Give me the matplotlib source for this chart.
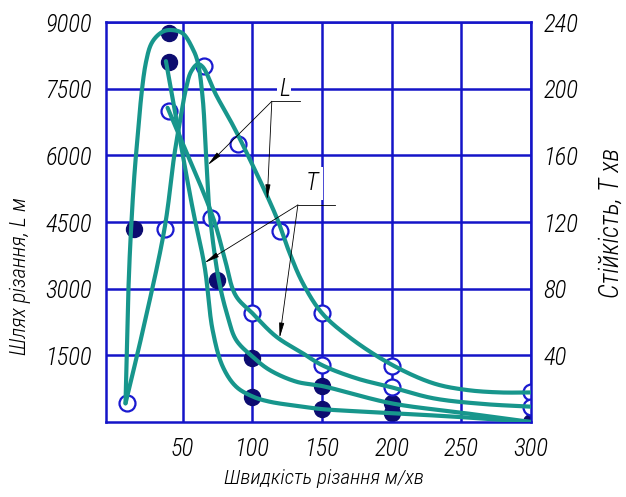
import numpy as np
import matplotlib
matplotlib.use("Agg")
import matplotlib.pyplot as plt
from matplotlib import font_manager

# prefer a narrow face (drawing-style lettering), fall back gracefully
_wanted = ["Liberation Sans Narrow", "DejaVu Sans Condensed", "Roboto Condensed", "Roboto", "DejaVu Sans"]
_have = {f.name for f in font_manager.fontManager.ttflist}
plt.rcParams["font.family"] = [f for f in _wanted if f in _have] or ["DejaVu Sans"]
plt.rcParams["font.style"] = "italic"
plt.rcParams["font.weight"] = "light"

GRID = "#1414c8"
TEAL = "#17968c"
NAVY = "#0c0c70"
OPEN_EDGE = "#1a1ad0"

# ---- traced curves (speed m/min, value on the L-scale 0..9000) ----
# L, filled series
l_fill_x = [9, 11, 13, 16.5, 23.7, 28.4, 35.6, 41.7, 50, 57.2, 60.8, 64.4, 66.8, 69.2,
            75.9, 82.4, 88.4, 100.9, 112.4, 131.6, 150, 200, 250, 300]
l_fill_y = [420, 2900, 4350, 6000, 8100, 8560, 8780, 8820, 8745, 8400, 8100, 7280, 6000, 4770,
            3200, 2370, 1845, 1450, 1170, 907, 810, 420, 210, 0]
# L, open series
l_open_x = [9, 21, 37, 44, 47.6, 52.4, 56, 60.8, 64.4, 74, 86, 95.6, 117.2, 126.8, 136.3,
            150, 170, 200, 230, 254, 278, 300]
l_open_y = [420, 2000, 4350, 6000, 6680, 7500, 7880, 8050, 7990, 7360, 6680, 6080, 4620, 3800, 3120,
            2450, 1900, 1290, 870, 720, 665, 665]
# T, filled series
t_fill_x = [38, 57.2, 65.8, 71.5, 78.8, 88.4, 100.5, 112.4, 136.3, 150, 200, 250, 300]
t_fill_y = [8120, 4800, 3490, 2070, 1245, 795, 570, 457, 345, 290, 200, 110, 0]
# T, open series
t_open_x = [39.2, 71.6, 80, 88, 100, 117.2, 136.3, 150, 174.7, 200, 230, 266, 300]
t_open_y = [7070, 4620, 3700, 2850, 2450, 1920, 1545, 1280, 983, 780, 533, 405, 345]

# ---- measured points ----
filled_x = [40, 40, 15, 75, 100, 100, 150, 150, 200, 200, 300]
filled_y = [8750, 8100, 4350, 3200, 1450, 570, 810, 290, 420, 200, 0]
open_x = [10, 37, 40, 65, 90, 70, 120, 100, 150, 150, 200, 200, 300, 300]
open_y = [420, 4350, 7000, 8000, 6250, 4600, 4300, 2450, 2450, 1280, 1260, 780, 680, 345]

x_ticks = [50, 100, 150, 200, 250, 300]
l_ticks = [1500, 3000, 4500, 6000, 7500, 9000]
t_ticks = [40, 80, 120, 160, 200, 240]


def smooth(xs, ys, n=30):
    """Centripetal Catmull-Rom through the traced points (in pixel-like space)."""
    sx, sy = 425 / 305, 400 / 9000
    p = np.column_stack([np.asarray(xs, float) * sx, np.asarray(ys, float) * sy])
    p = np.vstack([2 * p[0] - p[1], p, 2 * p[-1] - p[-2]])
    out = [p[1]]
    for i in range(1, len(p) - 2):
        p0, p1, p2, p3 = p[i - 1], p[i], p[i + 1], p[i + 2]
        t0 = 0.0
        t1 = t0 + max(np.linalg.norm(p1 - p0), 1e-6) ** 0.5
        t2 = t1 + max(np.linalg.norm(p2 - p1), 1e-6) ** 0.5
        t3 = t2 + max(np.linalg.norm(p3 - p2), 1e-6) ** 0.5
        t = np.linspace(t1, t2, n)[1:, None]
        a1 = (t1 - t) / (t1 - t0) * p0 + (t - t0) / (t1 - t0) * p1
        a2 = (t2 - t) / (t2 - t1) * p1 + (t - t1) / (t2 - t1) * p2
        a3 = (t3 - t) / (t3 - t2) * p2 + (t - t2) / (t3 - t2) * p3
        b1 = (t2 - t) / (t2 - t0) * a1 + (t - t0) / (t2 - t0) * a2
        b2 = (t3 - t) / (t3 - t1) * a2 + (t - t1) / (t3 - t1) * a3
        c = (t2 - t) / (t2 - t1) * b1 + (t - t1) / (t2 - t1) * b2
        out.extend(c)
    out = np.array(out)
    return out[:, 0] / sx, out[:, 1] / sy


fig = plt.figure(figsize=(6.26, 4.97), dpi=100)
renderer = fig.canvas.get_renderer()


def fit(txt, length_px, vertical=False):
    """Scale a text so its long side matches the length measured on the reference."""
    bb = txt.get_window_extent(renderer)
    cur = bb.height if vertical else bb.width
    txt.set_fontsize(txt.get_fontsize() * length_px / cur)


# font size for tick labels: "9000" is ~48 px wide in the reference
probe = fig.text(0, 0, "9000", fontsize=15)
fit(probe, 47)
tick_fs = probe.get_fontsize()
probe.remove()

ax = fig.add_axes([106 / 626, 75 / 497, (531 - 106) / 626, (422 - 22) / 497])
ax.set_xlim(-5, 300)
ax.set_ylim(0, 9000)

for v in x_ticks:
    ax.axvline(v, color=GRID, lw=1.8, zorder=1)
for v in l_ticks:
    ax.axhline(v, color=GRID, lw=1.8, zorder=1)
for s in ax.spines.values():
    s.set_color(GRID)
    s.set_linewidth(1.8)

ax.plot(filled_x, filled_y, "o", ms=11.5, color=NAVY, mec=NAVY, zorder=2)
ax.plot(open_x, open_y, "o", ms=11.5, mfc="white", mec=OPEN_EDGE, mew=1.6, zorder=2)

for cx, cy in [(l_fill_x, l_fill_y), (l_open_x, l_open_y),
               (t_fill_x, t_fill_y), (t_open_x, t_open_y)]:
    xs, ys = smooth(cx, cy)
    ax.plot(xs, ys, color=TEAL, lw=3, solid_capstyle="round", zorder=3)

ax.set_xticks(x_ticks)
ax.set_yticks(l_ticks)
ax.tick_params(length=0, labelsize=tick_fs, pad=11)
ax.tick_params(axis="y", pad=10)

ax2 = ax.twinx()
ax2.set_ylim(0, 240)
ax2.set_yticks(t_ticks)
ax2.tick_params(length=0, labelsize=tick_fs, pad=9)
for s in ax2.spines.values():
    s.set_visible(False)

# leaders for L and T
arrow = dict(arrowstyle="-|>,head_length=0.9,head_width=0.15", color="black",
             lw=0.6, shrinkA=0, shrinkB=0)
ax.text(123, 7500, "L", fontsize=tick_fs, ha="center", va="center", zorder=5,
        bbox=dict(facecolor="white", edgecolor="none", pad=1))
ax.plot([114, 134], [7216, 7216], color="black", lw=0.6, zorder=5)
ax.annotate("", xy=(68, 5780), xytext=(114, 7216), arrowprops=arrow, zorder=5)
ax.annotate("", xy=(110.7, 5000), xytext=(114, 7216), arrowprops=arrow, zorder=5)

ax.text(143, 5370, "T", fontsize=tick_fs, ha="center", va="center", zorder=5,
        bbox=dict(facecolor="white", edgecolor="none", pad=3))
ax.plot([132.7, 159], [4883, 4883], color="black", lw=0.6, zorder=5)
ax.annotate("", xy=(65.6, 3580), xytext=(132.7, 4883), arrowprops=arrow, zorder=5)
ax.annotate("", xy=(119.6, 1890), xytext=(132.7, 4883), arrowprops=arrow, zorder=5)

ylab = fig.text(20 / 626, 1 - 276 / 497, "Шлях різання, L м", rotation=90, fontsize=14,
                ha="center", va="center")
fit(ylab, 158, vertical=True)
rlab = fig.text(611 / 626, 1 - 223 / 497, "Стійкість, T хв", rotation=90, fontsize=14,
                ha="center", va="center")
fit(rlab, 150, vertical=True)
xlab = fig.text(324 / 626, 1 - 478 / 497, "Швидкість різання м/хв", fontsize=14,
                ha="center", va="center")
fit(xlab, 200)

fig.savefig("out.png", dpi=100)
